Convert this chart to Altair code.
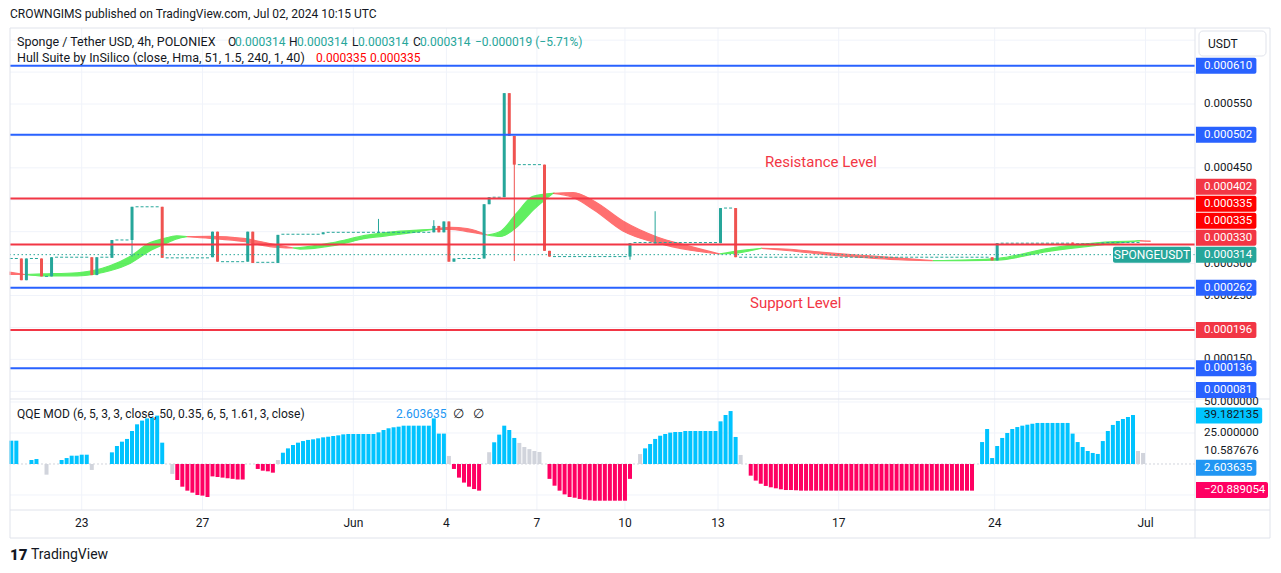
import altair as alt
import pandas as pd

FONT = "Roboto"
DARK = "#131722"
TEAL = "#26a69a"
CRED = "#ef5350"
LBLUE = "#2962ff"
LRED = "#f23645"
GRID = "#f0f3fa"
BORDER = "#e0e3eb"
QBLUE = "#00c3ff"
QPINK = "#ff0062"
QGRAY = "#d1d4dc"

# ---------------- values ----------------
tick_pos = [14, 38, 68, 86.5, 104.5, 122, 140.5, 164.5, 195.5, 225.5]
tick_lab = ["23", "27", "Jun", "4", "7", "10", "13", "17", "24", "Jul"]
price_ticks = [0.00065, 0.00060, 0.00055, 0.00050, 0.00045, 0.00040,
               0.00035, 0.00030, 0.00025, 0.00020, 0.00015, 0.00010]
qqe_ticks = [50, 25, 0, -25]
qqe_grid = [50, 25, -25]

candle_idx = [2, 3, 6, 8, 16, 17, 20, 24, 30, 40, 41, 47, 48, 53, 62, 73, 84, 85, 86, 87, 88,
              94, 95, 98, 99, 100, 106, 107, 123, 128, 141, 144, 195, 196, 211, 217, 225]
candle_open = [0.000308, 0.000274, 0.000308, 0.000280, 0.000310, 0.000282, 0.000309, 0.000337,
               0.000389, 0.000310, 0.000350, 0.000303, 0.000350, 0.000301, 0.000346, 0.000349,
               0.000349, 0.000359, 0.000349, 0.000366, 0.000303, 0.000308, 0.000393, 0.000404,
               0.000567, 0.000500, 0.000455, 0.000320, 0.000311, 0.000332, 0.000332, 0.000387,
               0.000310, 0.000305, 0.000333, 0.000331, 0.000314]
candle_high = [0.000308, 0.000308, 0.000308, 0.000310, 0.000310, 0.000310, 0.000337, 0.000389,
               0.000389, 0.000350, 0.000350, 0.000350, 0.000350, 0.000345, 0.000349, 0.000370,
               0.000368, 0.000359, 0.000366, 0.000366, 0.000308, 0.000393, 0.000404, 0.000567,
               0.000567, 0.000500, 0.000455, 0.000320, 0.000332, 0.000382, 0.000387, 0.000387,
               0.000310, 0.000332, 0.000333, 0.000333, 0.000314]
candle_low = [0.000274, 0.000274, 0.000280, 0.000280, 0.000282, 0.000282, 0.000309, 0.000311,
              0.000309, 0.000310, 0.000303, 0.000303, 0.000301, 0.000301, 0.000346, 0.000349,
              0.000349, 0.000349, 0.000349, 0.000303, 0.000303, 0.000308, 0.000393, 0.000404,
              0.000500, 0.000304, 0.000320, 0.000311, 0.000306, 0.000332, 0.000332, 0.000310,
              0.000305, 0.000305, 0.000331, 0.000331, 0.000314]
candle_close = [0.000274, 0.000308, 0.000280, 0.000310, 0.000282, 0.000310, 0.000337, 0.000389,
                0.000309, 0.000350, 0.000303, 0.000350, 0.000301, 0.000345, 0.000349, 0.000349,
                0.000359, 0.000349, 0.000366, 0.000303, 0.000308, 0.000393, 0.000404, 0.000567,
                0.000500, 0.000455, 0.000320, 0.000311, 0.000332, 0.000332, 0.000387, 0.000310,
                0.000305, 0.000332, 0.000331, 0.000333, 0.000314]

# runs of flat (no-trade) 4h candles: first bar, last bar, price
flat_start = [0, 4, 7, 9, 18, 21, 25, 31, 42, 49, 54, 63, 89, 96, 101, 108, 124, 142, 145, 197, 212, 218]
flat_end = [1, 5, 7, 15, 19, 23, 29, 39, 46, 52, 61, 83, 93, 97, 105, 122, 140, 143, 194, 210, 216, 224]
flat_price = [0.000308, 0.000308, 0.000280, 0.000310, 0.000310, 0.000337, 0.000389, 0.000309,
              0.000303, 0.000302, 0.000346, 0.000349, 0.000308, 0.000404, 0.000455, 0.000311,
              0.000333, 0.000387, 0.000310, 0.000332, 0.000331, 0.000333]

# Hull suite (hull and its 2-bar lag)
hull_x = [-0.26, 2.7, 6.3, 13.1, 19.6, 23.6, 27.6, 30.2, 32.9, 34.9, 39.5, 46.1, 51.4, 56.0,
          57.4, 64.0, 70.7, 77.3, 83.8, 87.2, 90.6, 94.6, 97.2, 100.5, 103.7, 107.7, 111.7,
          116.0, 121.6, 128.4, 135.0, 140.9, 144.9, 149.2, 154.8, 161.4, 168.1, 174.7, 183.2,
          196.0, 205.9, 215.8, 224.4, 226.4]
hull_main = [0.0002832, 0.0002829, 0.0002838, 0.0002857, 0.0002966, 0.0003112, 0.0003328,
             0.0003390, 0.0003436, 0.0003422, 0.0003396, 0.0003346, 0.0003267, 0.0003245,
             0.0003252, 0.0003331, 0.0003446, 0.0003508, 0.0003537, 0.0003537, 0.0003502,
             0.0003448, 0.0003503, 0.0003793, 0.0004055, 0.0004101, 0.0004036, 0.0003832,
             0.0003511, 0.0003323, 0.0003209, 0.0003151, 0.0003203, 0.0003240, 0.0003201,
             0.0003145, 0.0003103, 0.0003067, 0.0003046, 0.0003080, 0.0003237, 0.0003327,
             0.0003356, 0.0003350]
hull_lag = [0.0002864, 0.0002829, 0.0002806, 0.0002809, 0.0002888, 0.0003002, 0.0003202,
            0.0003296, 0.0003388, 0.0003422, 0.0003428, 0.0003394, 0.0003315, 0.0003245,
            0.0003228, 0.0003283, 0.0003398, 0.0003460, 0.0003537, 0.0003569, 0.0003550,
            0.0003448, 0.0003425, 0.0003573, 0.0003835, 0.0004101, 0.0004114, 0.0003972,
            0.0003667, 0.0003417, 0.0003271, 0.0003151, 0.0003171, 0.0003240, 0.0003225,
            0.0003177, 0.0003135, 0.0003099, 0.0003046, 0.0003056, 0.0003189, 0.0003287,
            0.0003356, 0.0003354]

level_val = [0.000610, 0.000502, 0.000402, 0.000330, 0.000262, 0.000196, 0.000136, 0.000081]
level_col = [LBLUE, LBLUE, LRED, LRED, LBLUE, LRED, LBLUE, LBLUE]

# QQE MOD histogram, one value per 4h bar (None = no bar)
qqe_vals = [
    18.8, 18.8, None, None, 3.2, 4.0, None, -8.6, None, None,
    3.2, 4.8, 6.7, 6.7, 7.5, 7.5, -4.8, None, None, None,
    9.4, 14.5, 18.0, 20.2, 26.6, 32.0, 35.0, 36.8, 37.4, 39.0,
    17.2, None, -8.0, -12.9, -18.3, -21.5, -23.1, -25.0, -25.5, -26.6,
    -10.0, -10.5, -11.0, -11.5, -12.0, -12.5, -12.5, None, None, -4.0,
    -5.4, -5.9, -7.0, 3.2, 9.1, 12.6, 15.3, 17.2, 18.5, 19.4,
    19.9, 20.7, 21.5, 22.0, 22.6, 23.1, 23.9, 24.2, 24.2, 24.2,
    24.2, 24.2, 24.2, 25.5, 27.4, 28.8, 29.6, 30.1, 30.9, 30.9,
    30.9, 30.9, 30.9, 30.9, 36.8, 24.5, 24.5, 6.5, -4.0, -11.0,
    -15.0, -18.3, -20.2, -21.5, None, 9.5, 17.5, 23.7, 30.9, 27.4,
    21.0, 17.0, 13.7, 12.0, 10.5, 9.7, None, -12.0, -17.5, -21.5,
    -24.5, -26.6, -27.2, -28.2, -28.8, -29.3, -29.6, -29.6, -29.6, -29.6,
    -29.6, -29.6, -29.6, -12.0, None, 8.0, 12.6, 16.1, 20.2, 22.8,
    24.2, 25.3, 25.8, 25.8, 26.6, 26.6, 26.6, 26.6, 26.6, 26.6,
    26.6, 34.4, 39.5, 42.7, 21.8, 7.3, None, -9.4, -13.4, -15.9,
    -17.7, -18.8, -19.6, -20.4, -21.0, -21.0, -21.2, -21.5, -21.5, -21.5,
    -21.5, -21.5, -21.5, -21.5, -21.5, -21.5, -21.5, -21.5, -21.5, -21.5,
    -21.5, -21.5, -21.5, -21.5, -21.5, -21.5, -21.5, -21.5, -21.5, -21.5,
    -21.5, -21.5, -21.5, -21.5, -21.5, -21.5, -21.5, -21.5, -21.5, -21.5,
    -21.5, -21.5, None, 17.7, 28.2, 4.8, 14.5, 21.0, 25.0, 28.2,
    29.8, 30.9, 31.7, 32.5, 33.1, 33.1, 33.1, 33.1, 33.1, 33.1,
    33.1, 24.5, 17.7, 13.7, 10.5, 8.9, 8.1, 18.5, 26.6, 31.5,
    34.7, 36.3, 37.9, 39.5, 10.5, 8.9,
]
qqe_gray = [7, 16, 32, 53, 87, 95, 101, 102, 103, 104, 105, 125, 145, 224, 225]

qqe_lbl_val = [39.182135, 10.587676, 2.603635, -20.889054]
qqe_lbl_fill = ["#00c3ff", "#ffffff", "#2196f3", "#ff0062"]
qqe_lbl_ink = [DARK, DARK, "#ffffff", "#ffffff"]

# ---------------- layout / scales ----------------
W, H = 1185, 482      # plot area holding both panes
PANE = 371            # height of the price pane
X_DOM = [-0.26, 235.33]
P_DOM = [-0.00008596, 0.00066905]
Q_DOM = [-37.1, 351.6]

XS = alt.Scale(domain=X_DOM, nice=False, zero=False, padding=0)
PS = alt.Scale(domain=P_DOM, nice=False, zero=False, padding=0)
QS = alt.Scale(domain=Q_DOM, nice=False, zero=False, padding=0)


def py(v):
    return (P_DOM[1] - v) * H / (P_DOM[1] - P_DOM[0])


def pv(y):
    return P_DOM[1] - y * (P_DOM[1] - P_DOM[0]) / H


def qy(v):
    return (Q_DOM[1] - v) * H / (Q_DOM[1] - Q_DOM[0])


def qv(y):
    return Q_DOM[1] - y * (Q_DOM[1] - Q_DOM[0]) / H


def fmt(v):
    return f"{v:.6f}".replace("-", "\u2212")


layers = []

# vertical grid
layers.append(alt.Chart(pd.DataFrame({"t": tick_pos})).mark_rule(color=GRID, strokeWidth=1).encode(
    x=alt.X("t:Q", scale=XS, axis=None), y=alt.value(0), y2=alt.value(H)))
# price grid
pg = [v for v in price_ticks if py(v) <= PANE]
layers.append(alt.Chart(pd.DataFrame({"v": pg})).mark_rule(color=GRID, strokeWidth=1).encode(
    y=alt.Y("v:Q", scale=PS, axis=None)))
# qqe grid
layers.append(alt.Chart(pd.DataFrame({"v": qqe_grid})).mark_rule(color=GRID, strokeWidth=1).encode(
    y=alt.Y("v:Q", scale=QS, axis=None)))
layers.append(alt.Chart(pd.DataFrame({"v": [0]})).mark_rule(color=QGRAY, strokeWidth=1, strokeDash=[2, 2]).encode(
    y=alt.Y("v:Q", scale=QS, axis=None)))

# QQE histogram
qrows = []
for j, v in enumerate(qqe_vals):
    if v is None:
        continue
    col = QGRAY if j in qqe_gray else (QBLUE if v > 0 else QPINK)
    qrows.append(dict(j=j, v=v, z=0.0, col=col))
layers.append(alt.Chart(pd.DataFrame(qrows)).mark_bar(size=4).encode(
    x=alt.X("j:Q", scale=XS, axis=None),
    y=alt.Y("v:Q", scale=QS, axis=None), y2="z:Q",
    color=alt.Color("col:N", scale=None)))

# Hull ribbon, split into rising / falling runs (one layer per run)
runs = []
for k in range(len(hull_x) - 1):
    up = (hull_main[k] + hull_main[k + 1]) >= (hull_lag[k] + hull_lag[k + 1])
    if runs and runs[-1][0] == up:
        runs[-1][1].append(k + 1)
    else:
        runs.append([up, [k, k + 1]])
for up, idx in runs:
    col = "#00e600" if up else "#ff1a1a"
    rdf = pd.DataFrame({"b": [hull_x[i] for i in idx], "m": [hull_main[i] for i in idx],
                        "g": [hull_lag[i] for i in idx]})
    layers.append(alt.Chart(rdf).mark_area(
        interpolate="monotone", color=col, opacity=0.62, stroke=col, strokeWidth=1.2).encode(
        x=alt.X("b:Q", scale=XS, axis=None),
        y=alt.Y("m:Q", scale=PS, axis=None, stack=None), y2="g:Q"))

# flat candles
fdf = pd.DataFrame({"a": [s - 0.3 for s in flat_start], "e": [e + 0.3 for e in flat_end], "p": flat_price})
layers.append(alt.Chart(fdf).mark_rule(color=TEAL, strokeWidth=1, strokeDash=[3, 2.03]).encode(
    x=alt.X("a:Q", scale=XS, axis=None), x2="e:Q", y=alt.Y("p:Q", scale=PS, axis=None)))

# candles
one_px = (P_DOM[1] - P_DOM[0]) / H
crows = []
for i, o, h, l, c in zip(candle_idx, candle_open, candle_high, candle_low, candle_close):
    top, bot = max(o, c), min(o, c)
    if top - bot < one_px:
        mid = (top + bot) / 2
        top, bot = mid + one_px / 2, mid - one_px / 2
    crows.append(dict(j=i, h=h, l=l, top=top, bot=bot, col=TEAL if c >= o else CRED))
cdf = pd.DataFrame(crows)
layers.append(alt.Chart(cdf).mark_rule(strokeWidth=1).encode(
    x=alt.X("j:Q", scale=XS, axis=None), y=alt.Y("l:Q", scale=PS, axis=None), y2="h:Q",
    color=alt.Color("col:N", scale=None)))
layers.append(alt.Chart(cdf).mark_bar(size=3).encode(
    x=alt.X("j:Q", scale=XS, axis=None), y=alt.Y("bot:Q", scale=PS, axis=None), y2="top:Q",
    color=alt.Color("col:N", scale=None)))

# horizontal levels
ldf = pd.DataFrame({"v": level_val, "col": level_col})
ldf = ldf[[py(v) <= PANE for v in level_val]]
layers.append(alt.Chart(ldf).mark_rule(strokeWidth=2).encode(
    y=alt.Y("v:Q", scale=PS, axis=None), color=alt.Color("col:N", scale=None)))

# last price dotted line
layers.append(alt.Chart(pd.DataFrame({"v": [candle_close[-1]]})).mark_rule(
    color=TEAL, strokeWidth=1, strokeDash=[1.5, 2.5]).encode(y=alt.Y("v:Q", scale=PS, axis=None)))

# frame
frame = pd.DataFrame([
    dict(x0=0, x1=1260, y0=0, y1=0), dict(x0=0, x1=1260, y0=510, y1=510),
    dict(x0=0, x1=0, y0=0, y1=510), dict(x0=1260, x1=1260, y0=0, y1=510),
    dict(x0=1185, x1=1185, y0=0, y1=510), dict(x0=0, x1=1260, y0=482, y1=482),
    dict(x0=0, x1=1260, y0=PANE, y1=PANE),
])
layers.append(alt.Chart(frame).mark_rule(color=BORDER, strokeWidth=1).encode(
    x=alt.X("x0:Q", scale=None, axis=None), x2="x1:Q",
    y=alt.Y("y0:Q", scale=None, axis=None), y2="y1:Q"))

# price scale labels (stacked bottom-up like TradingView)
plabels = list(zip(level_val, level_col)) + [(hull_main[-1], "#ff0000"), (hull_lag[-1], "#ff0000"),
                                             (candle_close[-1], TEAL)]
brows = []
prev = None
for v, col in sorted(plabels, key=lambda t: t[0]):
    y = min(py(v), PANE - 9)
    if prev is not None:
        y = min(y, prev - 17)
    prev = y
    t = fmt(v)
    brows.append(dict(t=t, yy=y, c=pv(y), top=pv(y - 8), bot=pv(y + 8), x0=1186,
                      x1=1186 + 14 + 5.8 * len(t), fill=col, ink="#ffffff"))
bdf = pd.DataFrame(brows)
# qqe labels (stacked top-down)
qrows2 = []
prev = None
for v, f, ink in sorted(zip(qqe_lbl_val, qqe_lbl_fill, qqe_lbl_ink), key=lambda t: -t[0]):
    y = max(qy(v), PANE + 9)
    if prev is not None:
        y = max(y, prev + 17)
    prev = y
    t = fmt(v)
    qrows2.append(dict(t=t, yy=y, c=qv(y), top=qv(y - 8), bot=qv(y + 8), x0=1186,
                       x1=1186 + 14 + 5.8 * len(t), fill=f, ink=ink))
qdf = pd.DataFrame(qrows2)

# axis tick labels: skip those hidden behind a label box (or the USDT box)
box_y = list(bdf["yy"]) + list(qdf["yy"]) + [15.5]
pt = [v for v in pg if min(abs(py(v) - b) for b in box_y) >= 7]
qt = [v for v in qqe_ticks if min(abs(qy(v) - b) for b in box_y) >= 7]
layers.append(alt.Chart(pd.DataFrame({"v": pt, "t": [fmt(v) for v in pt]})).mark_text(
    align="left", baseline="middle", font=FONT, fontSize=11.5, color=DARK).encode(
    x=alt.value(1194), y=alt.Y("v:Q", scale=PS, axis=None), text="t:N"))
layers.append(alt.Chart(pd.DataFrame({"v": qt, "t": [fmt(v) for v in qt]})).mark_text(
    align="left", baseline="middle", font=FONT, fontSize=11.5, color=DARK).encode(
    x=alt.value(1194), y=alt.Y("v:Q", scale=QS, axis=None), text="t:N"))

for df, S in ((bdf, PS), (qdf, QS)):
    layers.append(alt.Chart(df).mark_rect(cornerRadiusTopRight=2, cornerRadiusBottomRight=2).encode(
        x=alt.X("x0:Q", scale=None, axis=None), x2="x1:Q",
        y=alt.Y("top:Q", scale=S, axis=None), y2="bot:Q",
        color=alt.Color("fill:N", scale=None)))
    layers.append(alt.Chart(df).mark_text(align="left", baseline="middle", font=FONT, fontSize=11.5).encode(
        x=alt.value(1194), y=alt.Y("c:Q", scale=S, axis=None), text="t:N",
        color=alt.Color("ink:N", scale=None)))

# symbol tag next to the last price
sym = pd.DataFrame({"x0": [1103], "x1": [1181], "top": [candle_close[-1] + 8 * one_px],
                    "bot": [candle_close[-1] - 8 * one_px], "c": [candle_close[-1]], "t": ["SPONGEUSDT"]})
layers.append(alt.Chart(sym).mark_rect(cornerRadius=2, color=TEAL).encode(
    x=alt.X("x0:Q", scale=None, axis=None), x2="x1:Q",
    y=alt.Y("top:Q", scale=PS, axis=None), y2="bot:Q"))
layers.append(alt.Chart(sym).mark_text(align="center", baseline="middle", font=FONT, fontSize=12,
                                       color="#ffffff").encode(
    x=alt.value(1142), y=alt.Y("c:Q", scale=PS, axis=None), text="t:N"))

# USDT box
layers.append(alt.Chart(pd.DataFrame({"x0": [1189], "x1": [1256], "y0": [3], "y1": [28]})).mark_rect(
    fill="#ffffff", stroke=BORDER, strokeWidth=1, cornerRadius=4).encode(
    x=alt.X("x0:Q", scale=None, axis=None), x2="x1:Q",
    y=alt.Y("y0:Q", scale=None, axis=None), y2="y1:Q"))

# time labels
layers.append(alt.Chart(pd.DataFrame({"p": tick_pos, "t": tick_lab})).mark_text(
    align="center", baseline="middle", font=FONT, fontSize=12, color=DARK).encode(
    x=alt.X("p:Q", scale=XS, axis=None), y=alt.value(495), text="t:N"))

# legends / annotations
o, h, l, c = candle_open[-1], candle_high[-1], candle_low[-1], candle_close[-1]
chg = c - candle_close[-2]
pct = chg / candle_close[-2] * 100
chg_txt = f"{fmt(chg)} ({pct:.2f}%)".replace("-", "\u2212")
ann = [
    ("CROWNGIMS published on TradingView.com, Jul 02, 2024 10:15 UTC", 0, -14, DARK, 12),
    ("Sponge / Tether USD, 4h, POLONIEX", 7, 14, DARK, 12.5),
    ("O", 218, 14, DARK, 12), (fmt(o), 225, 14, TEAL, 12),
    ("H", 279, 14, DARK, 12), (fmt(h), 287, 14, TEAL, 12),
    ("L", 342, 14, DARK, 12), (fmt(l), 348, 14, TEAL, 12),
    ("C", 403, 14, DARK, 12), (fmt(c), 410, 14, TEAL, 12),
    (chg_txt, 465, 14, TEAL, 12),
    ("Hull Suite by InSilico (close, Hma, 51, 1.5, 240, 1, 40)", 7, 30, DARK, 12.5),
    (fmt(hull_main[-1]), 306, 30, "#ff0000", 12), (fmt(hull_lag[-1]), 360, 30, "#ff0000", 12),
    ("QQE MOD (6, 5, 3, 3, close, 50, 0.35, 6, 5, 1.61, 3, close)", 7, 386, DARK, 12),
    (fmt(qqe_lbl_val[2]), 386, 386, "#2196f3", 12),
    ("\u2205", 443, 386, DARK, 13), ("\u2205", 463, 386, DARK, 13),
    ("Resistance Level", 755, 134, LRED, 15),
    ("Support Level", 740, 275, LRED, 15),
    ("TradingView", 21, 527, DARK, 14),
    ("USDT", 1198, 16, DARK, 12),
]
adf = pd.DataFrame(ann, columns=["t", "x", "y", "c", "s"])
layers.append(alt.Chart(adf).mark_text(align="left", baseline="middle", font=FONT).encode(
    x=alt.X("x:Q", scale=None, axis=None), y=alt.Y("y:Q", scale=None, axis=None),
    text="t:N", color=alt.Color("c:N", scale=None), size=alt.Size("s:Q", scale=None)))
layers.append(alt.Chart(pd.DataFrame({"t": ["17"]})).mark_text(
    align="left", baseline="middle", font=FONT, fontSize=15, fontWeight=900, color=DARK).encode(
    x=alt.value(0), y=alt.value(527), text="t:N"))

chart = alt.layer(*layers).resolve_scale(x="independent", y="independent").properties(
    width=W, height=H,
    padding={"left": 2, "top": 20, "right": 76, "bottom": 54},
    autosize=alt.AutoSizeParams(type="none"),
    background="#ffffff",
).configure_view(stroke=None)

chart.save("out.html", embed_options={"renderer": "svg", "actions": False})
